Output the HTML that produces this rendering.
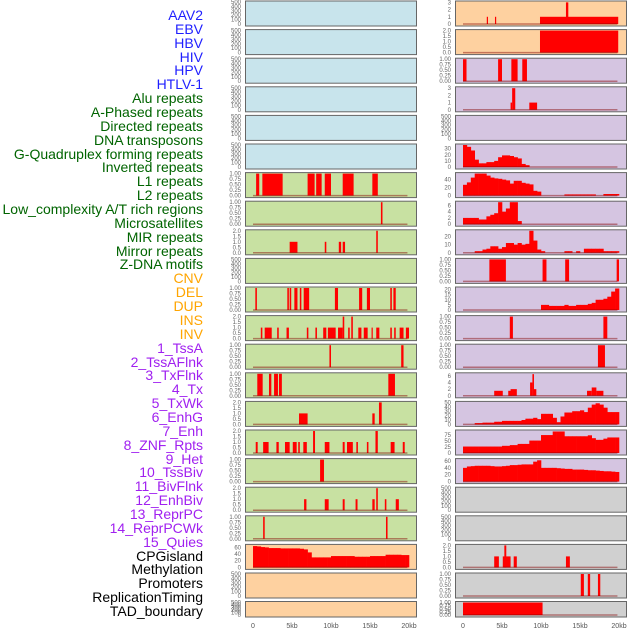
<!DOCTYPE html>
<html><head><meta charset="utf-8"><style>
html,body{margin:0;padding:0;background:#fff;}
#wrap{position:relative;width:630px;height:630px;overflow:hidden;font-family:"Liberation Sans",sans-serif;}
.lab{position:absolute;right:427px;font-size:14px;line-height:14px;white-space:nowrap;}
svg{position:absolute;left:0;top:0;}
</style></head><body>
<div id="wrap">
<div id="labels"></div>
<svg id="plot" width="630" height="630"></svg>
</div>
<script>
const trackNames = ["AAV2","EBV","HBV","HIV","HPV","HTLV-1","Alu repeats","A-Phased repeats","Directed repeats","DNA transposons","G-Quadruplex forming repeats","Inverted repeats","L1 repeats","L2 repeats","Low_complexity A/T rich regions","Microsatellites","MIR repeats","Mirror repeats","Z-DNA motifs","CNV","DEL","DUP","INS","INV","1_TssA","2_TssAFlnk","3_TxFlnk","4_Tx","5_TxWk","6_EnhG","7_Enh","8_ZNF_Rpts","9_Het","10_TssBiv","11_BivFlnk","12_EnhBiv","13_ReprPC","14_ReprPCWk","15_Quies","CPGisland","Methylation","Promoters","ReplicationTiming","TAD_boundary"];
const trackGroups = ["virus","virus","virus","virus","virus","virus","repeat","repeat","repeat","repeat","repeat","repeat","repeat","repeat","repeat","repeat","repeat","repeat","repeat","sv","sv","sv","sv","sv","chrom","chrom","chrom","chrom","chrom","chrom","chrom","chrom","chrom","chrom","chrom","chrom","chrom","chrom","chrom","other","other","other","other","other"];
const xTickLabels = ["0","5kb","10kb","15kb","20kb"];
const xTickValues = [0,5,10,15,20];

// segment tracks: [startKb, endKb, value]
const segAlu = [[0.4,0.8,1],[1.2,3.8,1],[7,7.9,1],[8.1,8.8,1],[9.2,10,1],[11.5,12.9,1],[15.3,16,1]];
const segAPhased = [[16.4,16.6,1]];
const segDirected = [[4.7,5.7,1],[9.2,9.4,1],[11.0,11.3,1],[11.5,11.8,1],[15.8,16.0,2]];
const segGQuad = [[0.3,0.5,1],[4.4,4.6,1],[4.7,4.9,1],[5.3,5.7,1],[6.0,6.2,1],[6.5,7.2,1],[10.5,10.9,1],[13.6,14.0,1],[14.6,15.0,1],[17.6,17.8,1],[18.0,18.3,1]];
const segInverted = [[1.0,1.2,1],[1.5,2.4,1],[3.1,3.3,1],[4.3,4.6,1],[6.9,7.1,1],[8.0,8.2,1],[9.0,9.4,1],[9.6,10.6,1],[10.9,11.5,1],[11.5,11.7,2],[12.2,12.4,1],[12.6,12.8,2],[13.5,13.9,1],[14.2,14.7,1],[15.2,15.3,1],[15.8,16.2,1],[17.6,17.8,1],[18.1,18.3,1],[18.8,19.3,1],[19.6,20.0,1]];
const segL1 = [[9.8,10.0,1],[19.0,19.3,1]];
const segL2 = [[0.55,1.24,1],[2.05,2.35,1],[2.7,3.2,1],[3.33,3.7,1],[17.35,18.2,1]];
const segLowComplex = [[5.9,7.0,1],[15.3,15.6,1],[16.15,16.5,2]];
const segMicrosat = [[0.35,0.6,1],[1.3,2.0,1],[3.0,3.3,1],[4.1,4.7,1],[5.1,5.6,1],[5.8,6.0,1],[6.45,6.9,1],[7.7,7.95,2],[9.2,9.8,1],[11.5,11.75,1],[12.05,12.8,1],[13.25,13.45,1],[14.6,14.8,1],[15.7,16.0,2],[17.65,18.15,1],[19.2,19.45,1]];
const segMIR = [[8.6,9.1,1]];
const segMirror = [[6.55,6.85,1],[9.2,9.7,1],[11.5,11.75,1],[13.15,13.4,1],[15.3,15.6,1],[15.8,16.0,2],[16.9,17.1,1],[18.3,18.7,1]];
const segZDNA = [[1.3,1.5,1],[17.05,17.25,1]];
const segINS = [[3.05,3.2,1],[4.1,4.25,1],[9.87,19.9,1],[13.2,13.5,3]];
const segINV = [[9.87,19.9,2]];
const segTssA = [[0,0.45,1],[4.5,5.0,1],[6.2,7.0,1],[7.6,8.2,1]];
const segTssAFlnk = [[6.1,6.3,1],[6.3,6.7,3],[8.5,9.5,1]];
const segZNF = [[3.38,5.5,1],[10.2,10.7,1],[13.1,13.6,1],[19.7,20.0,1]];
const segTssBiv = [[6.0,6.4,1],[18.0,18.5,1]];
const segBivFlnk = [[17.3,18.2,1]];
const segEnhBiv = [[4.0,5.1,1.5],[5.8,6.2,1.5],[6.1,6.9,2],[8.6,8.9,4],[8.9,9.1,6.5],[9.1,9.4,2],[15.9,16.5,1.5],[16.5,17.1,2.5],[17.1,18.0,1.5]];
const segPromoters = [[4.0,4.6,1],[5.1,6.1,1],[5.3,5.55,2],[6.5,6.9,1],[13.2,13.7,1]];
const segReplication = [[15.1,15.5,1],[16.0,16.3,1],[17.3,17.6,1]];
const segTAD = [[0,10.2,1]];

// profile tracks: 0.5kb bins from 0 to 20kb
const profCNV = [64,63,61,60,58,58,58,57,57,57,57,57,56,54,45,30,30,30,30,30,34,34,34,34,34,34,32,32,32,32,34,34,34,34,38,38,38,38,37,37];
const prof4Tx = [36,33,27,12,6,6,8,8,10,16,19,19,18,16,14,5,3,0,0,0];
const prof5TxWk = [27,33,45,55,55,55,50,45,43,42,40,38,30,37,37,32,30,28,12,10,0,0,0,0,0,0,3,3,3,3,3,3,3,3,0,0,4,4,4,4];
const prof6EnhG = [2,2,2,2,1.5,1.5,2.5,3,3.5,7,4,5,7,7,1,0];
const prof7Enh = [0,0,0,2,2,4,5,8,8,5,7,12,12,10,12,10,11,27,15,4,2,0,0,0,0,0,2,2,0,2,0,5,5,5,5,5,2,2,2,2];
const prof9Het = [0,0,0,0,0,0,0,0,0,0,0,0,0,0,0,0,0,0,0,0,5,5,4,4,4,4,5,4,4,5,5,5,6,7,10,10,11,13,18,21];
const prof13ReprPC = [0,0,0,3,3,4,4,4,6,6,8,8,8,8,8,10,13,13,15,12,24,24,24,15,5,18,27,27,30,30,32,28,38,45,48,45,38,28,28,28];
const prof14ReprPCWk = [27,27,27,27,27,27,27,27,27,27,30,30,33,33,38,38,38,52,52,52,75,75,75,90,90,90,70,70,70,70,70,70,74,62,55,55,60,65,65,65];
const prof15Quies = [40,44,45,46,46,46,46,45,44,44,45,46,48,48,49,50,50,50,58,62,40,40,40,40,39,38,37,37,35,35,35,34,33,33,32,31,30,30,29,28];

const T500 = ["0","100","200","300","400","500"];
const T1 = ["0.00","0.25","0.50","0.75","1.00"];
const T2 = ["0.0","0.5","1.0","1.5","2.0"];

const colors = {virus:"#1f1fff",repeat:"#006400",sv:"#ffa500",chrom:"#a020f0",other:"#000"};
const bgs = {blue:"#c8e4ec",green:"#c8e1a2",orange:"#fed1a0",purple:"#d5c5e1",gray:"#d0d0d0"};

// panel spec: col,row,bg,tick labels,tick values,max,data kind,data
function P(col,row,bg,tl,tv,max,seg,prof){return {col,row,bg,tl,tv,max,seg,prof};}
const V500=[0,100,200,300,400,500], V1=[0,0.25,0.5,0.75,1], V2=[0,0.5,1,1.5,2];
const panels = [
 P(0,0,"blue",T500,V500,500),P(0,1,"blue",T500,V500,500),P(0,2,"blue",T500,V500,500),
 P(0,3,"blue",T500,V500,500),P(0,4,"blue",T500,V500,500),P(0,5,"blue",T500,V500,500),
 P(0,6,"green",T1,V1,1,segAlu),P(0,7,"green",T1,V1,1,segAPhased),P(0,8,"green",T2,V2,2,segDirected),
 P(0,9,"green",T500,V500,500),P(0,10,"green",T1,V1,1,segGQuad),P(0,11,"green",T2,V2,2,segInverted),
 P(0,12,"green",T1,V1,1,segL1),P(0,13,"green",T1,V1,1,segL2),P(0,14,"green",T2,V2,2,segLowComplex),
 P(0,15,"green",T2,V2,2,segMicrosat),P(0,16,"green",T1,V1,1,segMIR),P(0,17,"green",T2,V2,2,segMirror),
 P(0,18,"green",T1,V1,1,segZDNA),P(0,19,"orange",["0","20","40","60"],[0,20,40,60],66,null,profCNV),
 P(0,20,"orange",T500,V500,500),P(0,21,"orange",T500,V500,500),
 P(1,0,"orange",["0","1","2","3"],[0,1,2,3],3.05,segINS),P(1,1,"orange",T2,V2,2,segINV),
 P(1,2,"purple",T1,V1,1,segTssA),P(1,3,"purple",["0","1","2","3"],[0,1,2,3],3.05,segTssAFlnk),
 P(1,4,"purple",T500,V500,500),P(1,5,"purple",["0","10","20","30"],[0,10,20,30],36,null,prof4Tx),
 P(1,6,"purple",["0","20","40"],[0,20,40],55,null,prof5TxWk),P(1,7,"purple",["0","2","4","6"],[0,2,4,6],7,null,prof6EnhG),
 P(1,8,"purple",["0","10","20"],[0,10,20],27,null,prof7Enh),P(1,9,"purple",T1,V1,1,segZNF),
 P(1,10,"purple",["0","5","10","15","20"],[0,5,10,15,20],21.5,null,prof9Het),P(1,11,"purple",T1,V1,1,segTssBiv),
 P(1,12,"purple",T1,V1,1,segBivFlnk),P(1,13,"purple",["0","2","4","6"],[0,2,4,6],6.6,segEnhBiv),
 P(1,14,"purple",["0","10","20","30","40","50"],[0,10,20,30,40,50],50,null,prof13ReprPC),
 P(1,15,"purple",["0","25","50","75"],[0,25,50,75],92,null,prof14ReprPCWk),
 P(1,16,"purple",["0","20","40","60"],[0,20,40,60],64,null,prof15Quies),
 P(1,17,"gray",T500,V500,500),P(1,18,"gray",T500,V500,500),
 P(1,19,"gray",T2,V2,2,segPromoters),P(1,20,"gray",T1,V1,1,segReplication),P(1,21,"gray",T1,V1,1,segTAD)
];

const NS="http://www.w3.org/2000/svg";
const svg=document.getElementById("plot");
function mk(tag,attrs,parent){const e=document.createElementNS(NS,tag);for(const k in attrs)e.setAttribute(k,attrs[k]);(parent||svg).appendChild(e);return e;}

// labels
const labBox=document.getElementById("labels");
trackNames.forEach((n,i)=>{
  const d=document.createElement("div");
  d.className="lab";
  d.style.top=(8+i*13.86)+"px";
  d.style.color=colors[trackGroups[i]];
  d.textContent=n;
  
  
  labBox.appendChild(d);
});

function panelX(col){return col===0?245:455;}
function panelTop(row){return row===21?601:0.5+row*28.6;}
function panelH(row){return row===21?15.5:25;}
function xScale(col,kb){return panelX(col)+8+kb*7.8;}

panels.forEach(p=>{
  const x0=panelX(p.col), T=panelTop(p.row), H=panelH(p.row);
  const g=mk("g",{});
  
  
  const bg=mk("rect",{x:x0+0.5,y:T+0.5,width:171,height:H,fill:bgs[p.bg],stroke:"#666","stroke-width":1},g);
  
  
  const y0=T+H-1.5, span=H-3;
  const yS=v=>y0-(v/p.max)*span;
  p.tl.forEach((t,i)=>{
    const tx=mk("text",{x:x0-4,y:yS(p.tv[i])+2,"font-size":6,fill:"#666","text-anchor":"end","font-family":"Liberation Sans, sans-serif"},g);
    tx.textContent=t;
    
    
  });
  if(p.prof){
    p.prof.forEach((v,i)=>{
      if(v<=0)return;
      const r=mk("rect",{x:xScale(p.col,i*0.5),y:yS(v),width:0.5*7.8+0.3,height:y0-yS(v),fill:"#ff0000"},g);
      
      
    });
  }
  if(p.seg){
    p.seg.forEach(s=>{
      const xa=xScale(p.col,s[0]), xb=xScale(p.col,s[1]);
      const r=mk("rect",{x:xa,y:yS(s[2]),width:Math.max(1.2,xb-xa),height:y0-yS(s[2]),fill:"#ff0000"},g);
      
      
    });
  }
  if(p.prof||p.seg){
    const bl=mk("line",{x1:xScale(p.col,0),x2:xScale(p.col,19.8),y1:y0,y2:y0,stroke:"rgba(130,0,0,0.45)","stroke-width":1.5},g);
    
    
  }
});

// x axes
[0,1].forEach(col=>{
  xTickValues.forEach((v,i)=>{
    const t=mk("text",{x:xScale(col,v),y:628,"font-size":7,fill:"#555","text-anchor":"middle","font-family":"Liberation Sans, sans-serif"});
    t.textContent=xTickLabels[i];
    
    
  });
});
</script>
</body></html>
